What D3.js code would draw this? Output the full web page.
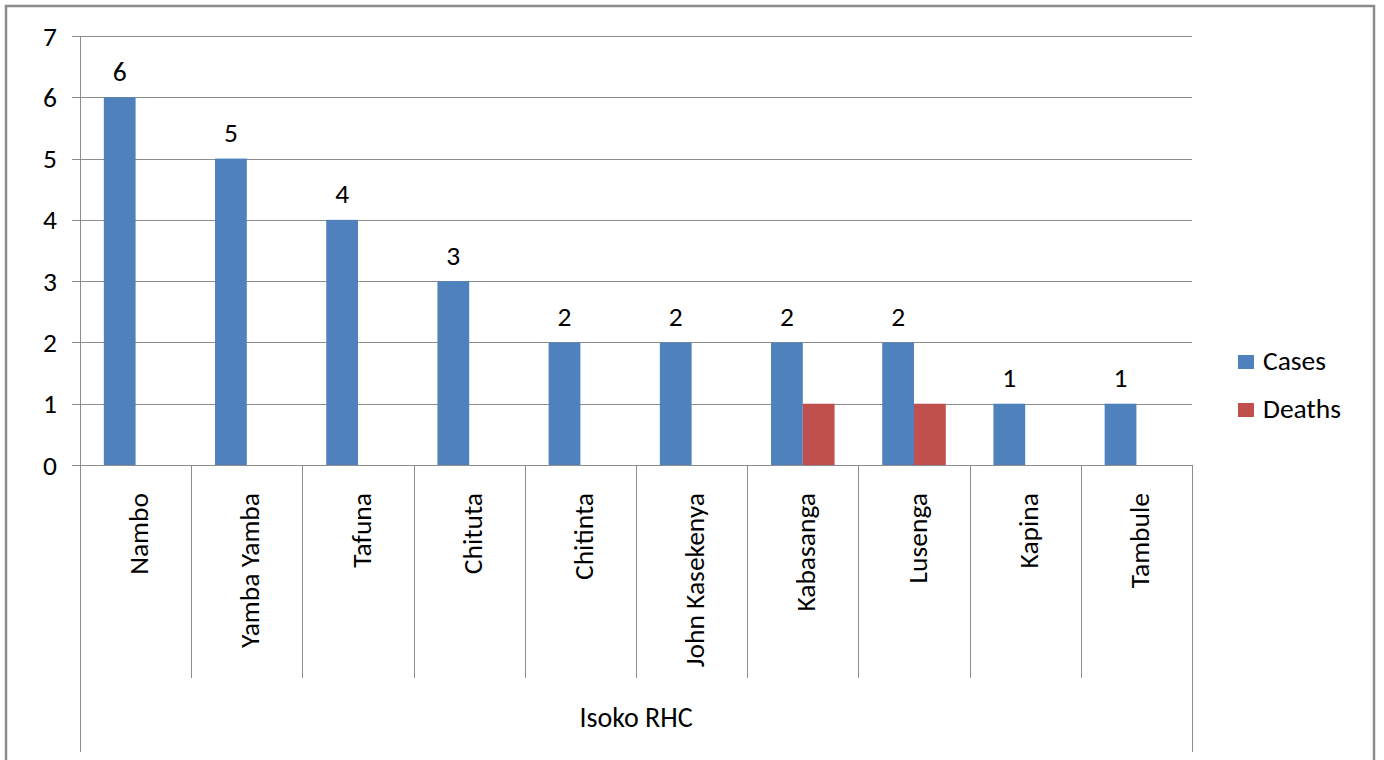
<!DOCTYPE html>
<html>
<head>
<meta charset="utf-8">
<script src="https://cdn.jsdelivr.net/npm/d3@7/dist/d3.min.js"></script>
<style>
  html, body { margin: 0; padding: 0; background: #fff; }
  svg { display: block; }
  text { font-family: Carlito, Lato, "Open Sans", sans-serif; fill: #000; }
</style>
</head>
<body>
<svg id="chart" width="1384" height="760"></svg>
<script>
const categories = ["Nambo", "Yamba Yamba", "Tafuna", "Chituta", "Chitinta", "John Kasekenya", "Kabasanga", "Lusenga", "Kapina", "Tambule"];
const cases = [6, 5, 4, 3, 2, 2, 2, 2, 1, 1];
const deaths = [0, 0, 0, 0, 0, 0, 1, 1, 0, 0];
const seriesNames = ["Cases", "Deaths"];
const seriesColors = ["#4F81BD", "#C0504D"];
const yTicks = [0, 1, 2, 3, 4, 5, 6, 7];
const groupLabel = "Isoko RHC";

(function () {
const svg = d3.select("#chart");
const pL = 80, pR = 1192, pT = 36, pB = 465;
const gridColor = "#8c8c8c";
const fs = 27.5;

// outer frame
svg.append("rect").attr("x", 6).attr("y", 6).attr("width", 1368).attr("height", 770)
  .attr("fill", "none").attr("stroke", "#8c8c8c").attr("stroke-width", 2.5);

const x = d3.scaleBand().domain(categories).range([pL, pR]).padding(0);
const y = d3.scaleLinear().domain([0, 7]).range([pB, pT]);
const bw = x.bandwidth() / 3.5;
const sub = d3.scaleBand().domain(seriesNames).range([0.75 * bw, 2.75 * bw]).padding(0);

// gridlines
svg.append("g").selectAll("line").data(yTicks).join("line")
  .attr("x1", pL - 8).attr("x2", pR)
  .attr("y1", d => Math.round(y(d)) + 0.5).attr("y2", d => Math.round(y(d)) + 0.5)
  .attr("stroke", gridColor).attr("stroke-width", 1);

// y axis line
svg.append("line").attr("x1", pL + 0.5).attr("x2", pL + 0.5).attr("y1", pT).attr("y2", 752)
  .attr("stroke", gridColor).attr("stroke-width", 1);

// y tick labels
svg.append("g").selectAll("text").data(yTicks).join("text")
  .attr("x", 57).attr("y", d => y(d)).attr("dy", "0.35em")
  .attr("text-anchor", "end").attr("font-size", fs).text(d => d);

// category separators
const seps = categories.slice(1).map(c => x(c));
svg.append("g").selectAll("line").data(seps).join("line")
  .attr("x1", d => Math.round(d) + 0.5).attr("x2", d => Math.round(d) + 0.5)
  .attr("y1", pB).attr("y2", 678)
  .attr("stroke", gridColor).attr("stroke-width", 1);
svg.append("line").attr("x1", pR + 0.5).attr("x2", pR + 0.5).attr("y1", pB).attr("y2", 752)
  .attr("stroke", gridColor).attr("stroke-width", 1);

// bars
const data = categories.map((c, i) => ({ c, vals: [cases[i], deaths[i]] }));
const groups = svg.append("g").selectAll("g").data(data).join("g")
  .attr("transform", d => `translate(${x(d.c)},0)`);
groups.selectAll("rect").data(d => d.vals.map((v, j) => ({ v, s: seriesNames[j], j })).filter(e => e.v > 0))
  .join("rect")
  .attr("x", e => sub(e.s)).attr("width", sub.bandwidth())
  .attr("y", e => y(e.v)).attr("height", e => y(0) - y(e.v))
  .attr("fill", e => seriesColors[e.j]);

// data labels (cases only)
groups.append("text")
  .attr("x", d => sub("Cases") + sub.bandwidth() / 2)
  .attr("y", d => y(d.vals[0]) - 26).attr("dy", "0.35em")
  .attr("text-anchor", "middle").attr("font-size", fs)
  .text(d => d.vals[0]);

// category labels
svg.append("g").selectAll("text").data(categories).join("text")
  .attr("transform", d => `translate(${x(d) + x.bandwidth() / 2 + 3},493) rotate(-90)`)
  .attr("text-anchor", "end").attr("dy", "0.35em").attr("font-size", fs)
  .text(d => d);

// group label
svg.append("text").attr("x", (pL + pR) / 2).attr("y", 727)
  .attr("text-anchor", "middle").attr("font-size", 28).text(groupLabel);

// legend
const leg = svg.append("g").selectAll("g").data(seriesNames).join("g")
  .attr("transform", (d, i) => `translate(1238,${355 + i * 48})`);
leg.append("rect").attr("width", 16).attr("height", 14).attr("fill", (d, i) => seriesColors[i]);
leg.append("text").attr("x", 25).attr("y", 15).attr("font-size", fs).text(d => d);
})();
</script>
</body>
</html>
